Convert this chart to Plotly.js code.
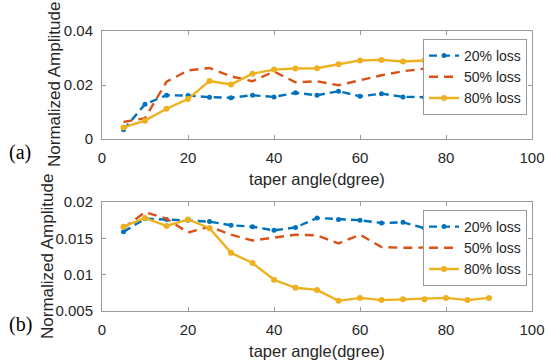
<!DOCTYPE html>
<html>
<head>
<meta charset="utf-8">
<script src="https://cdn.plot.ly/plotly-3.0.1.min.js"></script>
<style>html,body{margin:0;padding:0;background:#fff;}#chart{width:548px;height:361px;}</style>
</head>
<body>
<div id="chart"></div>
<script>
var taperAngle = [5,10,15,20,25,30,35,40,45,50,55,60,65,70,75,80,85,90];
var seriesNames = ['20% loss','50% loss','80% loss'];
// (a)
var a20 = [0.0034,0.0129,0.0162,0.0161,0.0155,0.0153,0.0162,0.0156,0.0171,0.0162,0.0177,0.0158,0.0168,0.0156,0.0155,0.0150,0.0157,0.0153];
var a50 = [0.0063,0.0077,0.0212,0.0254,0.0263,0.0232,0.0214,0.0250,0.0210,0.0214,0.0199,0.0217,0.0236,0.0251,0.0261,0.0270,0.0272,0.0275];
var a80 = [0.0043,0.0068,0.0112,0.0148,0.0215,0.0202,0.0242,0.0257,0.0261,0.0262,0.0277,0.0291,0.0293,0.0287,0.0291,0.0295,0.0296,0.0297];
// (b)
var b20 = [0.0159,0.0177,0.0176,0.0175,0.0173,0.0168,0.0166,0.0161,0.0165,0.0178,0.0176,0.0175,0.0171,0.0172,0.0164,0.0169,0.0174,0.0176];
var b50 = [0.0164,0.0186,0.0177,0.0158,0.0166,0.0155,0.0147,0.0151,0.0155,0.0154,0.0143,0.0155,0.0138,0.0137,0.0137,0.0137,0.0138,0.0138];
var b80 = [0.0166,0.0178,0.0167,0.0176,0.0164,0.0130,0.0116,0.0093,0.0082,0.0079,0.0064,0.0068,0.0065,0.0066,0.0066,0.0068,0.0065,0.0068];
var xTitle = 'taper angle(dgree)';
var yTitle = 'Normalized Amplitude';
var panelLabels = ['(a)','(b)'];

var colors = ['#0072BD','#D95319','#EDB120'];
var FONT = 'Liberation Sans, Arial, sans-serif';
var SERIF = 'Liberation Serif, Times New Roman, serif';

function mk(y, i, xa, ya, leg){
  var t = {x: taperAngle, y: y, name: seriesNames[i], xaxis: xa, yaxis: ya, legend: leg,
    type: 'scatter', line: {color: colors[i], width: 2.4}};
  if (i === 0) { t.mode = 'lines+markers'; t.line.dash = '8px,5px'; t.marker = {size: 5, color: colors[i]}; }
  if (i === 1) { t.mode = 'lines'; t.line.dash = '9px,6px'; }
  if (i === 2) { t.mode = 'lines+markers'; t.marker = {size: 6, color: colors[i]}; }
  return t;
}
var data = [
  mk(a20,0,'x','y','legend'), mk(a50,1,'x','y','legend'), mk(a80,2,'x','y','legend'),
  mk(b20,0,'x2','y2','legend2'), mk(b50,1,'x2','y2','legend2'), mk(b80,2,'x2','y2','legend2')
];

var W = 548, H = 361;
function axBase(){
  return {showline: true, linecolor: '#999', linewidth: 1, mirror: 'ticks', ticks: 'inside', ticklen: 4,
    tickcolor: '#999', showgrid: false, zeroline: false, automargin: false,
    tickfont: {family: FONT, size: 15, color: '#262626'}, ticklabelstandoff: 5};
}
var xa = axBase(); xa.range = [0,100]; xa.dtick = 20; xa.tick0 = 0; xa.domain = [102/W, 532/W]; xa.anchor = 'y';
xa.title = {text: xTitle, font: {family: FONT, size: 16.5, color: '#262626'}, standoff: 8};
var ya = axBase(); ya.range = [0,0.04]; ya.dtick = 0.02; ya.tick0 = 0; ya.domain = [1-139/H, 1-31/H]; ya.anchor = 'x';
var xa2 = axBase(); xa2.range = [0,100]; xa2.dtick = 20; xa2.tick0 = 0; xa2.domain = [102/W, 532/W]; xa2.anchor = 'y2';
xa2.title = {text: xTitle, font: {family: FONT, size: 16.5, color: '#262626'}, standoff: 8};
var ya2 = axBase(); ya2.range = [0.005,0.02]; ya2.dtick = 0.005; ya2.tick0 = 0; ya2.domain = [1-311/H, 1-202/H]; ya2.anchor = 'x2';

function leg(yTop){
  return {x: 527/W, y: 1-yTop/H, xanchor: 'right', yanchor: 'top', bgcolor: '#fff', bordercolor: '#999', borderwidth: 1,
    font: {family: FONT, size: 14, color: '#262626'}, itemwidth: 30, tracegroupgap: 0};
}
function yt(xc, yc){
  return {text: yTitle, xref: 'paper', yref: 'paper', x: xc/W, y: 1-yc/H, xanchor: 'center', yanchor: 'middle',
    textangle: -90, showarrow: false, font: {family: FONT, size: 17, color: '#262626'}};
}
function pl(txt, yc){
  return {text: txt, xref: 'paper', yref: 'paper', x: 7/W, y: 1-yc/H, xanchor: 'left', yanchor: 'middle', showarrow: false,
    font: {family: SERIF, size: 20, color: '#000'}};
}

var layout = {
  width: W, height: H, margin: {l:0, r:0, t:0, b:0}, paper_bgcolor: '#fff', plot_bgcolor: '#fff',
  showlegend: true,
  xaxis: xa, yaxis: ya, xaxis2: xa2, yaxis2: ya2,
  legend: leg(39), legend2: leg(210),
  annotations: [ yt(55, 85), yt(47, 257), pl(panelLabels[0], 152), pl(panelLabels[1], 324) ]
};
Plotly.newPlot('chart', data, layout, {displayModeBar: false, staticPlot: true});
</script>
</body>
</html>
